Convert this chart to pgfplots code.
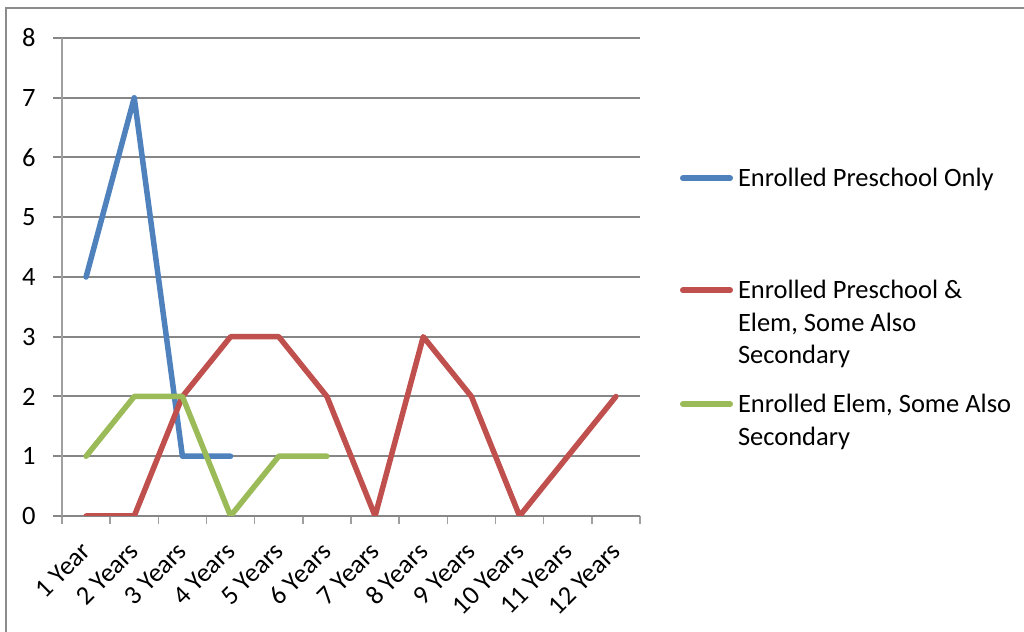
\documentclass[border=0pt]{standalone}
\usepackage{fontspec}
\setmainfont{Carlito}
\usepackage{pgfplots}
\pgfplotsset{compat=1.18}

\definecolor{serA}{HTML}{4F81BD}
\definecolor{serB}{HTML}{C0504D}
\definecolor{serC}{HTML}{9BBB59}
\definecolor{gridc}{HTML}{868686}
\definecolor{axisc}{HTML}{A0A0A0}
\definecolor{framec}{HTML}{8C8C8C}

\newcommand{\chartfont}{\fontsize{26.5bp}{32.5bp}\selectfont}

\begin{document}
\begin{tikzpicture}[x=1bp,y=1bp]
\useasboundingbox (0,0) rectangle (1024,632);
% chart frame
\draw[framec, line width=2bp] (6,0) -- (6,624) -- (1024,624);
\begin{axis}[
  at={(62bp,116bp)}, anchor=south west,
  scale only axis, width=578bp, height=478bp,
  xmin=0.5, xmax=12.5, ymin=0, ymax=8,
  axis lines=left,
  axis line style={-, axisc, line width=1.5bp},
  x axis line style={gridc},
  xtick={1,...,12},
  xticklabels={1 Year,2 Years,3 Years,4 Years,5 Years,6 Years,7 Years,8 Years,9 Years,10 Years,11 Years,12 Years},
  minor xtick={0.5,1.5,...,12.5},
  major x tick style={draw=none},
  minor x tick style={axisc, line width=1.5bp},
  minor tick length=8bp,
  ytick={0,...,8},
  major y tick style={gridc, line width=2bp},
  major tick length=9bp,
  tick align=outside,
  ymajorgrids,
  y grid style={gridc, line width=2bp},
  font=\chartfont,
  tick label style={font=\chartfont},
  /pgf/number format/assume math mode=true,
  yticklabel style={xshift=-14bp},
  xticklabel style={xshift=0bp, yshift=-22bp, rotate=45, anchor=east, inner sep=0pt},
  legend style={at={(1.0692,0.7364)}, anchor=north west, draw=none, fill=none,
    inner sep=0pt, outer sep=0pt, column sep=5bp, row sep=16.5bp,
    cells={anchor=base west},
    nodes={inner sep=0pt, text height=, text depth=, font=\chartfont}},
  legend image code/.code={
    \path[draw=none] (0bp,0bp) -- (53bp,0bp);
    \draw[#1, line cap=round] (2.75bp,8.5bp) -- (50.25bp,8.5bp);
  },
  ser/.style={line width=5.5bp, line join=round, line cap=round, mark=none},
]
\addplot[serA, ser] coordinates {(1,4) (2,7) (3,1) (4,1)};
\addlegendentry{\strut Enrolled Preschool Only\rule[-72.75bp]{0pt}{1bp}}
\addplot[serB, ser] coordinates {(1,0) (2,0) (3,2) (4,3) (5,3) (6,2) (7,0) (8,3) (9,2) (10,0) (11,1) (12,2)};
\addlegendentry{\vtop{\hbox{\strut Enrolled Preschool \&}\hbox{\strut Elem, Some Also}\hbox{\strut Secondary}}}
\addplot[serC, ser] coordinates {(1,1) (2,2) (3,2) (4,0) (5,1) (6,1)};
\addlegendentry{\vtop{\hbox{\strut Enrolled Elem, Some Also}\hbox{\strut Secondary}}}
\end{axis}
\end{tikzpicture}
\end{document}
